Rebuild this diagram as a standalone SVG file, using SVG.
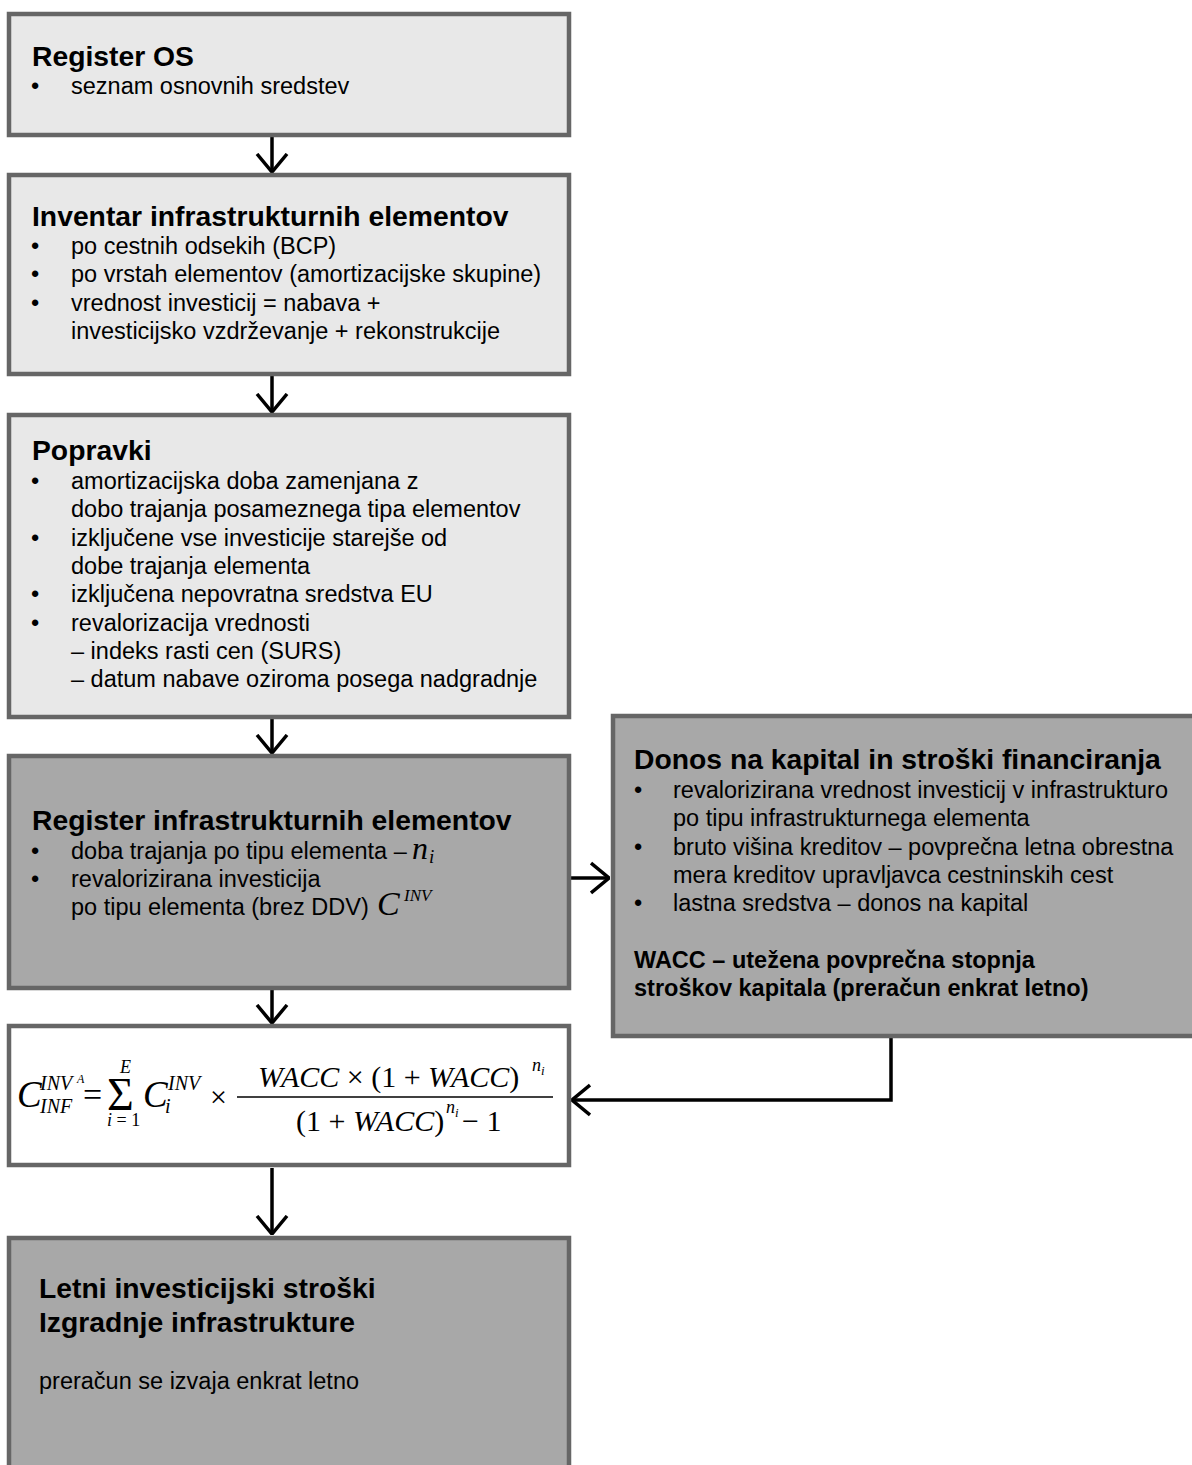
<svg xmlns="http://www.w3.org/2000/svg" width="1192" height="1465" viewBox="0 0 1192 1465">
<defs>
<style>
.box{stroke:#666666;stroke-width:4.5}
.light{fill:#e8e8e8}
.dark{fill:#a8a8a8}
.white{fill:#ffffff}
.t{font-family:"Liberation Sans",Arial,sans-serif;font-size:28.3px;font-weight:bold;fill:#000}
.b{font-family:"Liberation Sans",Arial,sans-serif;font-size:23.5px;fill:#000}
.bb{font-family:"Liberation Sans",Arial,sans-serif;font-size:23.5px;font-weight:bold;fill:#000}
.m{font-family:"Liberation Serif","Times New Roman",serif;font-style:italic;fill:#000}
.r{font-family:"Liberation Serif","Times New Roman",serif;font-style:normal;fill:#000}
.conn{fill:none;stroke:#000;stroke-width:3.5}
</style>
<marker id="ah" viewBox="0 0 20 34" refX="19" refY="17" markerWidth="20" markerHeight="34" orient="auto" markerUnits="userSpaceOnUse">
<path d="M1 2 L19 17 L1 32" fill="none" stroke="#000" stroke-width="3.5"/>
</marker>
</defs>

<g id="connectors">
<line class="conn" x1="272" y1="137" x2="272" y2="172" marker-end="url(#ah)"/>
<line class="conn" x1="272" y1="376" x2="272" y2="412" marker-end="url(#ah)"/>
<line class="conn" x1="272" y1="719" x2="272" y2="753" marker-end="url(#ah)"/>
<line class="conn" x1="571" y1="878" x2="609" y2="878" marker-end="url(#ah)"/>
<line class="conn" x1="272" y1="990" x2="272" y2="1023" marker-end="url(#ah)"/>
<polyline class="conn" points="891,1038 891,1100 572,1100" marker-end="url(#ah)"/>
<line class="conn" x1="272" y1="1168" x2="272" y2="1234" marker-end="url(#ah)"/>
</g>

<g id="register-os">
<rect class="box light" x="9" y="14" width="560" height="121"/>
<text class="t" x="32" y="66">Register OS</text>
<text class="b" x="31" y="94">•</text><text class="b" x="71" y="94">seznam osnovnih sredstev</text>
</g>

<g id="inventar">
<rect class="box light" x="9" y="175" width="560" height="199"/>
<text class="t" x="32" y="226">Inventar infrastrukturnih elementov</text>
<text class="b" x="31" y="254">•</text><text class="b" x="71" y="254">po cestnih odsekih (BCP)</text>
<text class="b" x="31" y="282">•</text><text class="b" x="71" y="282">po vrstah elementov (amortizacijske skupine)</text>
<text class="b" x="31" y="311">•</text><text class="b" x="71" y="311">vrednost investicij = nabava +</text>
<text class="b" x="71" y="339">investicijsko vzdrževanje + rekonstrukcije</text>
</g>

<g id="popravki">
<rect class="box light" x="9" y="415" width="560" height="302"/>
<text class="t" x="32" y="460">Popravki</text>
<text class="b" x="31" y="489">•</text><text class="b" x="71" y="489">amortizacijska doba zamenjana z</text>
<text class="b" x="71" y="517">dobo trajanja posameznega tipa elementov</text>
<text class="b" x="31" y="546">•</text><text class="b" x="71" y="546">izključene vse investicije starejše od</text>
<text class="b" x="71" y="574">dobe trajanja elementa</text>
<text class="b" x="31" y="602">•</text><text class="b" x="71" y="602">izključena nepovratna sredstva EU</text>
<text class="b" x="31" y="631">•</text><text class="b" x="71" y="631">revalorizacija vrednosti</text>
<text class="b" x="71" y="659">– indeks rasti cen (SURS)</text>
<text class="b" x="71" y="687">– datum nabave oziroma posega nadgradnje</text>
</g>

<g id="register-ie">
<rect class="box dark" x="9" y="756" width="560" height="232"/>
<text class="t" x="32" y="830">Register infrastrukturnih elementov</text>
<text class="b" x="31" y="859">•</text><text class="b" x="71" y="859">doba trajanja po tipu elementa – </text>
<text class="m" x="412" y="859" font-size="32">n</text><text class="m" x="429" y="863" font-size="19">i</text>
<text class="b" x="31" y="887">•</text><text class="b" x="71" y="887">revalorizirana investicija</text>
<text class="b" x="71" y="915">po tipu elementa (brez DDV)</text>
<text class="m" x="377" y="915" font-size="34">C</text><text class="m" x="404" y="901" font-size="17">INV</text>
</g>

<g id="donos">
<rect class="box dark" x="613" y="716" width="600" height="320"/>
<text class="t" x="634" y="769">Donos na kapital in stroški financiranja</text>
<text class="b" x="634" y="798">•</text><text class="b" x="673" y="798">revalorizirana vrednost investicij v infrastrukturo</text>
<text class="b" x="673" y="826">po tipu infrastrukturnega elementa</text>
<text class="b" x="634" y="855">•</text><text class="b" x="673" y="855">bruto višina kreditov – povprečna letna obrestna</text>
<text class="b" x="673" y="883">mera kreditov upravljavca cestninskih cest</text>
<text class="b" x="634" y="911">•</text><text class="b" x="673" y="911">lastna sredstva – donos na kapital</text>
<text class="bb" x="634" y="968">WACC – utežena povprečna stopnja</text>
<text class="bb" x="634" y="996">stroškov kapitala (preračun enkrat letno)</text>
</g>

<g id="formula">
<rect class="box white" x="9" y="1026" width="560" height="139"/>
<text class="m" x="17" y="1107" font-size="37">C</text>
<text class="m" x="40" y="1090" font-size="20">INV</text>
<text class="m" x="77" y="1083" font-size="12">A</text>
<text class="m" x="40" y="1113" font-size="20">INF</text>
<text class="r" x="83" y="1106" font-size="34">=</text>
<text class="r" x="107" y="1110" font-size="46">Σ</text>
<text class="m" x="120" y="1073" font-size="18">E</text>
<text class="m" x="107" y="1126" font-size="18">i<tspan class="r"> = 1</tspan></text>
<text class="m" x="143" y="1107" font-size="37">C</text>
<text class="m" x="168" y="1090" font-size="20">INV</text>
<text class="m" x="165" y="1113" font-size="20">i</text>
<text class="r" x="210" y="1107" font-size="30">×</text>
<line x1="237" y1="1097" x2="553" y2="1097" stroke="#000" stroke-width="1.6"/>
<text class="m" x="258" y="1087" font-size="30">WACC<tspan class="r"> ×  (1 + </tspan>WACC<tspan class="r">)</tspan></text>
<text class="m" x="532" y="1071" font-size="18">n</text><text class="m" x="541" y="1075" font-size="13">i</text>
<text class="r" x="296" y="1131" font-size="30">(1 + <tspan class="m">WACC</tspan>)</text>
<text class="m" x="446" y="1113" font-size="18">n</text><text class="m" x="455" y="1117" font-size="13">i</text>
<text class="r" x="462" y="1131" font-size="30">− 1</text>
</g>

<g id="letni">
<rect class="box dark" x="9" y="1238" width="560" height="240"/>
<text class="t" x="39" y="1298">Letni investicijski stroški</text>
<text class="t" x="39" y="1332">Izgradnje infrastrukture</text>
<text class="b" x="39" y="1389">preračun se izvaja enkrat letno</text>
</g>
</svg>
